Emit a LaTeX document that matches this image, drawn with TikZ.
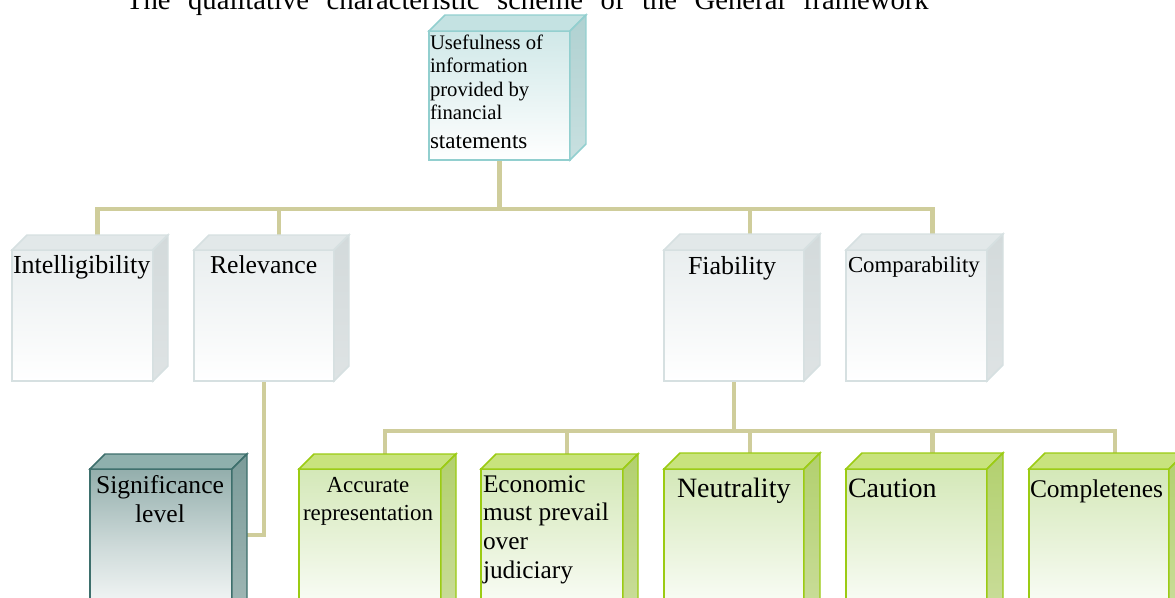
\documentclass[tikz,border=0pt]{standalone}
\usepackage{fontspec}
\setmainfont{Liberation Serif}
\usetikzlibrary{calc}
\pgfdeclarelayer{bg}
\pgfsetlayers{bg,main}

\definecolor{conncol}{RGB}{207,205,155}
% teal (top box)
\definecolor{tealF}{HTML}{D0E8E8}
\definecolor{tealB}{HTML}{92CFCF}
\definecolor{tealT}{HTML}{C4E2E2}
\definecolor{tealS}{HTML}{B0D1D1}
\definecolor{tealS2}{HTML}{C8E0E0}
% gray (second row)
\definecolor{grayF}{HTML}{E9EEEF}
\definecolor{grayB}{HTML}{D6E0E1}
\definecolor{grayT}{HTML}{E2E8E9}
\definecolor{grayS}{HTML}{D3DADB}
\definecolor{grayS2}{HTML}{DEE3E4}
% dark teal (significance)
\definecolor{sigF}{HTML}{93AEAC}
\definecolor{sigB}{HTML}{3D6F6C}
\definecolor{sigT}{HTML}{8FB0AD}
\definecolor{sigS}{HTML}{7B9B99}
\definecolor{sigS2}{HTML}{A3BAB8}
% green (third row)
\definecolor{grnF}{HTML}{D4E8B8}
\definecolor{grnB}{HTML}{9BCB13}
\definecolor{grnT}{HTML}{C8E37D}
\definecolor{grnS}{HTML}{B2D06E}
\definecolor{grnS2}{HTML}{CCDE9E}

\tikzset{
  conn/.style={draw=conncol, line width=3.7pt, line join=miter},
  tealfront/.style={draw=tealB, line width=1.1pt, top color=tealF, bottom color=white, inner sep=0pt, outer sep=0pt},
  tealtop/.style={draw=tealB, line width=1.1pt, fill=tealT},
  tealside/.style={draw=tealB, line width=1.1pt, top color=tealS, bottom color=tealS2},
  grayfront/.style={draw=grayB, line width=1.1pt, top color=grayF, bottom color=white, inner sep=0pt, outer sep=0pt},
  graytop/.style={draw=grayB, line width=1.1pt, fill=grayT},
  grayside/.style={draw=grayB, line width=1.1pt, top color=grayS, bottom color=grayS2},
  sigfront/.style={draw=sigB, line width=1.1pt, top color=sigF, bottom color=white, middle color=sigF!45!white, inner sep=0pt, outer sep=0pt},
  sigtop/.style={draw=sigB, line width=1.1pt, fill=sigT},
  sigside/.style={draw=sigB, line width=1.1pt, top color=sigS, bottom color=sigS2},
  grnfront/.style={draw=grnB, line width=1.1pt, top color=grnF, bottom color=white, inner sep=0pt, outer sep=0pt},
  grntop/.style={draw=grnB, line width=1.1pt, fill=grnT},
  grnside/.style={draw=grnB, line width=1.1pt, top color=grnS, bottom color=grnS2},
  lbl/.style={inner sep=0pt, outer sep=0pt, text=black},
}

% #1 name, #2 x1, #3 y1, #4 x2, #5 y2, #6 family, #7 depth
\newcommand{\cubebox}[7]{%
  \pgfmathsetmacro\cubeW{(#4-#2)*0.75}%
  \pgfmathsetmacro\cubeH{(#5-#3)*0.75}%
  \node[#6front, minimum width=\cubeW pt, minimum height=\cubeH pt, anchor=north west] (#1) at (#2,#3) {};
  \path[#6top] (#1.north west) -- ++(#7,-#7) -- ($(#1.north east)+(#7,-#7)$) -- (#1.north east) -- cycle;
  \path[#6side] (#1.north east) -- ++(#7,-#7) -- ($(#1.south east)+(#7,-#7)$) -- (#1.south east) -- cycle;
  \coordinate (#1-top) at ($(#1.north)+(#7,-#7)$);
}

\begin{document}
\begin{tikzpicture}[x=0.75pt,y=-0.75pt]
\useasboundingbox (0,0) rectangle (1175,597);
\clip (0,0) rectangle (1175,597);

% title (cropped at the top)
\node[lbl, anchor=base west, font=\fontsize{21.5}{25}\selectfont] (title) at (126,9)
  {\makebox[602pt][s]{The qualitative characteristic scheme of the General framework}};

% boxes
\cubebox{use}{429}{31}{570}{160}{teal}{16}
\cubebox{intel}{12}{250}{153}{381}{gray}{15}
\cubebox{relev}{194}{250}{334}{381}{gray}{15}
\cubebox{fiab}{664}{250}{804}{381}{gray}{16}
\cubebox{compar}{846}{250}{987}{381}{gray}{16}
\cubebox{sig}{90}{469}{232}{625}{sig}{15}
\cubebox{acc}{299}{469}{441}{625}{grn}{15}
\cubebox{econ}{481}{469}{623}{625}{grn}{15}
\cubebox{neut}{664}{469}{804}{625}{grn}{16}
\cubebox{caut}{846}{469}{987}{625}{grn}{16}
\cubebox{compl}{1029}{469}{1169}{625}{grn}{16}

% texts (multi-line nodes are placed by the baseline of their last line)
\node[lbl, anchor=base west, align=left, font=\fontsize{15.5}{17.6}\selectfont] (tuse) at (430,148)
  {Usefulness of\\information\\provided by\\financial\\[3.5pt]{\fontsize{17.3}{20}\selectfont statements}};
\node[lbl, anchor=base west, font=\fontsize{19.5}{22}\selectfont] (tintel) at (13,273) {Intelligibility};
\node[lbl, anchor=base west, font=\fontsize{19.3}{22}\selectfont] (trelev) at (210,273) {Relevance};
\node[lbl, anchor=base west, font=\fontsize{19.5}{22}\selectfont] (tfiab) at (688,274) {Fiability};
\node[lbl, anchor=base west, font=\fontsize{17.1}{20}\selectfont] (tcompar) at (848,272) {Comparability};
\node[lbl, anchor=base, align=center, font=\fontsize{19.2}{21.7}\selectfont] (tsig) at (160,522) {Significance\\level};
\node[lbl, anchor=base, align=center, font=\fontsize{17.2}{21}\selectfont] (tacc) at (368,520) {Accurate\\representation};
\node[lbl, anchor=base west, align=left, font=\fontsize{19}{21.4}\selectfont] (tecon) at (483,578) {Economic\\must prevail\\over\\judiciary};
\node[lbl, anchor=base west, font=\fontsize{21}{24}\selectfont] (tneut) at (677,497) {Neutrality};
\node[lbl, anchor=base west, font=\fontsize{21}{24}\selectfont] (tcaut) at (848,497) {Caution};
\node[lbl, anchor=base west, font=\fontsize{19.1}{22}\selectfont] (tcompl) at (1030,497) {Completenes};

% connectors (behind the boxes)
\begin{pgfonlayer}{bg}
  \coordinate (busA) at (499,209);
  \coordinate (busB) at (734,431);
  \draw[conn] (use.south) -- (use.south |- busA);
  \draw[conn] (intel-top) |- (compar-top |- busA) -- (compar-top);
  \draw[conn] (relev-top) -- (relev-top |- busA);
  \draw[conn] (fiab-top) -- (fiab-top |- busA);
  \draw[conn] (relev.south) |- (sig.east |- 0,535);
  \draw[conn] (fiab.south) -- (fiab.south |- busB);
  \draw[conn] (acc-top) |- (compl-top |- busB) -- (compl-top);
  \draw[conn] (econ-top) -- (econ-top |- busB);
  \draw[conn] (neut-top) -- (neut-top |- busB);
  \draw[conn] (caut-top) -- (caut-top |- busB);
\end{pgfonlayer}
\end{tikzpicture}
\end{document}
